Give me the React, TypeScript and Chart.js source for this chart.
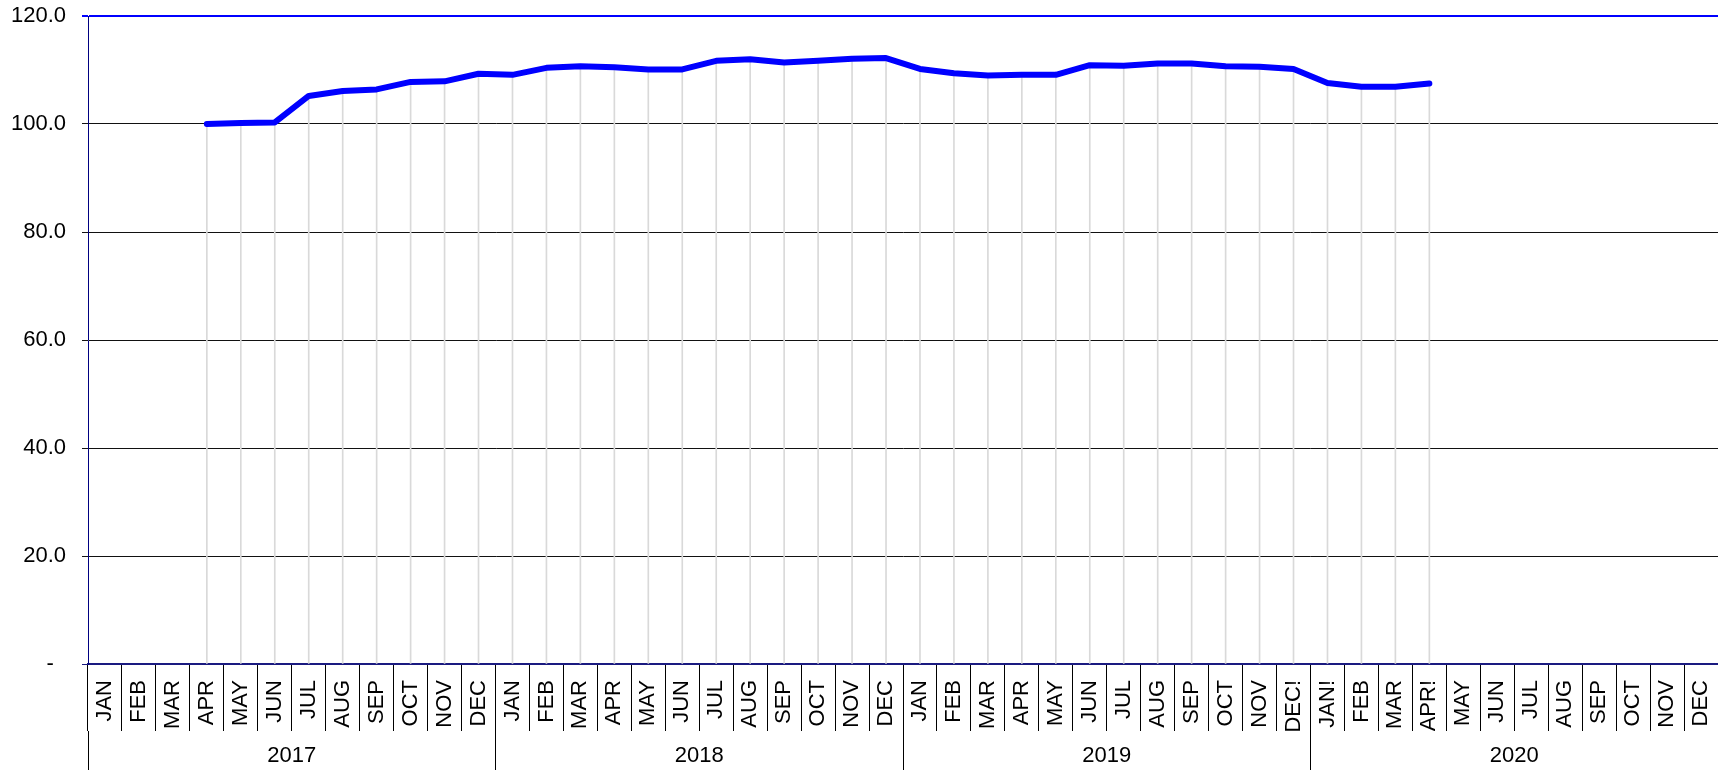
import React, { useEffect, useRef } from 'react';
import { Chart, registerables } from 'chart.js';

Chart.register(...registerables);

// Category labels (month level), as printed on the axis
const monthLabels: string[] = [
  'JAN', 'FEB', 'MAR', 'APR', 'MAY', 'JUN', 'JUL', 'AUG', 'SEP', 'OCT', 'NOV', 'DEC',
  'JAN', 'FEB', 'MAR', 'APR', 'MAY', 'JUN', 'JUL', 'AUG', 'SEP', 'OCT', 'NOV', 'DEC',
  'JAN', 'FEB', 'MAR', 'APR', 'MAY', 'JUN', 'JUL', 'AUG', 'SEP', 'OCT', 'NOV', 'DEC!',
  'JAN!', 'FEB', 'MAR', 'APR!', 'MAY', 'JUN', 'JUL', 'AUG', 'SEP', 'OCT', 'NOV', 'DEC',
];

// Year group labels
const yearLabels: string[] = ['2017', '2018', '2019', '2020'];

// Index values per month
const indexValues: (number | null)[] = [
  null, null, null, 100.0, 100.2, 100.3, 105.2, 106.1, 106.4, 107.8, 107.9, 109.3,
  109.1, 110.4, 110.7, 110.5, 110.1, 110.1, 111.7, 112.0, 111.4, 111.7, 112.1, 112.2,
  110.2, 109.4, 109.0, 109.1, 109.1, 110.9, 110.8, 111.2, 111.2, 110.7, 110.6, 110.2,
  107.6, 106.9, 106.9, 107.5, null, null, null, null, null, null, null, null,
];

const yMin = 0;
const yMax = 120;
const yStep = 20;

export default function App() {
  const ref = useRef<HTMLCanvasElement>(null);

  useEffect(() => {
    document.body.style.margin = '0';
    document.body.style.overflow = 'hidden';
    Chart.defaults.font.family = '"Liberation Sans", Arial, sans-serif';
    Chart.defaults.font.size = 22;
    Chart.defaults.color = '#000';

    const chart = new Chart(ref.current as HTMLCanvasElement, {
      type: 'line',
      data: {
        labels: monthLabels,
        datasets: [
          {
            type: 'line',
            data: indexValues,
            borderColor: '#0000ff',
            borderWidth: 6,
            pointRadius: 0,
            borderCapStyle: 'round',
            borderJoinStyle: 'round',
            tension: 0,
            spanGaps: false,
            order: 0,
            xAxisID: 'x',
            yAxisID: 'y',
          } as any,
          {
            type: 'bar',
            data: indexValues,
            backgroundColor: '#d9d9d9',
            barThickness: 1,
            borderWidth: 0,
            order: 1,
            xAxisID: 'x',
            yAxisID: 'y',
          } as any,
        ],
      },
      options: {
        responsive: false,
        animation: false,
        events: [],
        layout: { padding: { top: 16, left: 0, right: 0, bottom: 0 } },
        plugins: { legend: { display: false }, tooltip: { enabled: false } },
        scales: {
          x: {
            type: 'category',
            position: 'bottom',
            offset: true,
            weight: 0,
            grid: {
              offset: true,
              drawOnChartArea: false,
              drawTicks: true,
              tickLength: 67,
              color: '#000',
              lineWidth: 1,
            },
            border: { display: true, color: '#1a1a80', width: 2 },
            ticks: {
              autoSkip: false,
              minRotation: 90,
              maxRotation: 90,
              padding: -51,
              color: '#000',
              font: { size: 22 },
            },
            afterFit: (s: any) => {
              s.height = 67;
            },
          },
          x2: {
            type: 'category',
            position: 'bottom',
            labels: yearLabels,
            offset: true,
            weight: 1,
            grid: {
              offset: true,
              drawOnChartArea: false,
              drawTicks: true,
              tickLength: 39,
              color: '#000',
              lineWidth: 1,
            },
            border: { display: false },
            ticks: {
              autoSkip: false,
              maxRotation: 0,
              minRotation: 0,
              padding: -27,
              color: '#000',
              font: { size: 22 },
            },
            afterFit: (s: any) => {
              s.height = 39;
            },
          },
          y: {
            min: yMin,
            max: yMax,
            ticks: {
              stepSize: yStep,
              padding: 16,
              color: '#000',
              font: { size: 22 },
              callback: (v: any) => (Number(v) === 0 ? '-\u00a0\u00a0' : Number(v).toFixed(1)),
            },
            grid: {
              tickLength: 6,
              color: (ctx: any) =>
                ctx.tick && ctx.tick.value === yMax
                  ? '#0000ff'
                  : ctx.tick && ctx.tick.value === 0
                  ? '#1a1a80'
                  : '#111111',
              lineWidth: (ctx: any) => (ctx.tick && ctx.tick.value === yMax ? 2 : 1),
            },
            border: { display: true, color: '#000080', width: 1 },
            afterFit: (s: any) => {
              s.width = 88;
              s.paddingTop = 0;
              s.paddingBottom = 0;
            },
          },
        },
      } as any,
    });
    return () => chart.destroy();
  }, []);

  return (
    <canvas
      ref={ref}
      width={1718}
      height={770}
      style={{ display: 'block', width: '1718px', height: '770px' }}
    />
  );
}
